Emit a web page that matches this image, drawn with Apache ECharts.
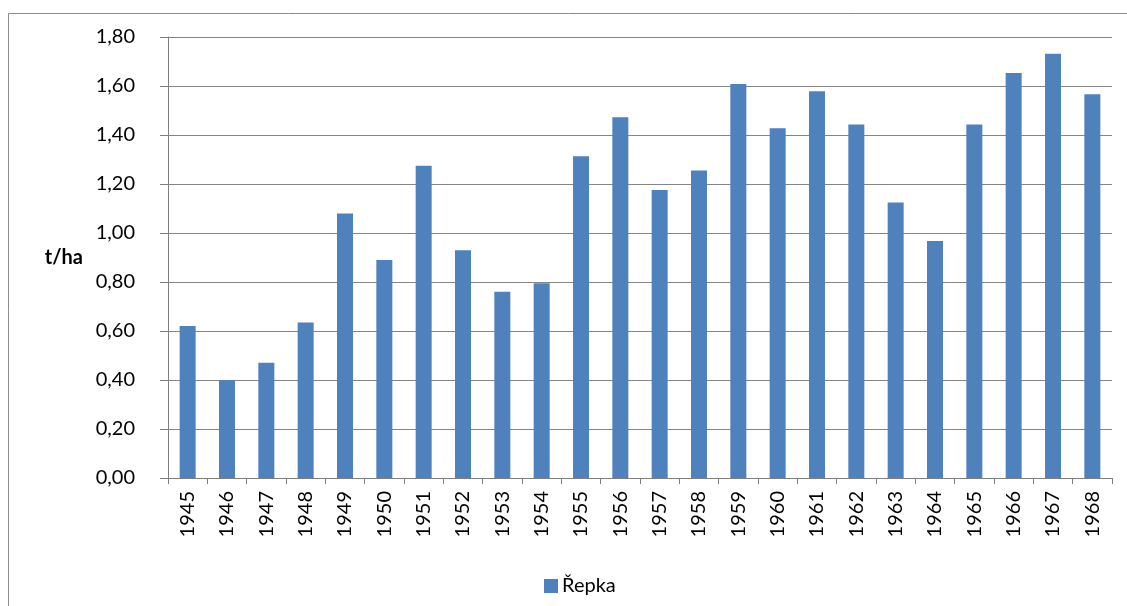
<!DOCTYPE html>
<html>
<head>
<meta charset="utf-8">
<script src="https://cdn.jsdelivr.net/npm/echarts@6/dist/echarts.min.js"></script>
<style>
  html, body { margin: 0; padding: 0; background: #fff; }
  #chart { width: 1127px; height: 606px; }
</style>
</head>
<body>
<div id="chart"></div>
<script>
// years and yields (t/ha)
var years = ["1945", "1946", "1947", "1948", "1949", "1950", "1951", "1952", "1953", "1954", "1955", "1956",
  "1957", "1958", "1959", "1960", "1961", "1962", "1963", "1964", "1965", "1966", "1967", "1968"];
var repka = [0.62, 0.40, 0.47, 0.635, 1.08, 0.89, 1.275, 0.93, 0.76, 0.795, 1.313, 1.472,
  1.176, 1.255, 1.608, 1.428, 1.579, 1.443, 1.125, 0.967, 1.443, 1.653, 1.732, 1.566];
var seriesName = "Řepka";

var font = "Lato, 'Open Sans', sans-serif";
var chart = echarts.init(document.getElementById("chart"));

chart.setOption({
  animation: false,
  textStyle: { fontFamily: font },
  // frame round the chart
  graphic: [{
    type: "rect",
    shape: { x: 8.5, y: 13.5, width: 1300, height: 800 },
    style: { fill: "none", stroke: "#8c8c8c", lineWidth: 1 },
    silent: true
  }],
  grid: { left: 168, right: 15, top: 37, bottom: 128 },
  legend: {
    data: [seriesName],
    left: 539,
    top: 571,
    icon: "rect",
    itemWidth: 14,
    itemHeight: 14,
    itemGap: 5,
    textStyle: { fontFamily: font, fontSize: 20, color: "#000", padding: [0, 0, 0, -1] }
  },
  xAxis: {
    type: "category",
    data: years,
    axisLine: { lineStyle: { color: "#7f7f7f", width: 1 } },
    axisTick: { show: true, length: 6, lineStyle: { color: "#7f7f7f" } },
    axisLabel: { rotate: 90, margin: 13, fontSize: 20, color: "#000", fontFamily: font, interval: 0 }
  },
  yAxis: {
    type: "value",
    min: 0,
    max: 1.8,
    interval: 0.2,
    name: "t/ha",
    nameLocation: "middle",
    nameRotate: 0,
    nameGap: 85,
    nameTextStyle: { fontFamily: font, fontSize: 20, fontWeight: "bold", color: "#000" },
    axisLine: { show: true, lineStyle: { color: "#7f7f7f", width: 1 } },
    axisTick: { show: true, inside: false, length: 8, lineStyle: { color: "#7f7f7f" } },
    splitLine: { lineStyle: { color: "#858585", width: 1 } },
    axisLabel: {
      margin: 33,
      fontSize: 20,
      color: "#000",
      fontFamily: font,
      formatter: function (v) { return v.toFixed(2).replace(".", ","); }
    }
  },
  series: [{
    name: seriesName,
    type: "bar",
    data: repka,
    barWidth: 16,
    itemStyle: { color: "#4f81bd" }
  }]
});
</script>
</body>
</html>
